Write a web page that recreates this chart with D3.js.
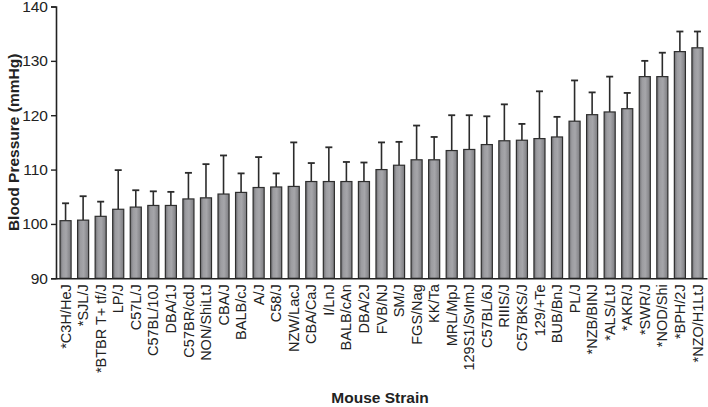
<!DOCTYPE html>
<html>
<head>
<meta charset="utf-8">
<script src="https://cdn.jsdelivr.net/npm/d3@7"></script>
<style>
  body { margin: 0; background: #fff; }
  text { font-family: "Liberation Sans", Arial, sans-serif; }
</style>
</head>
<body>
<div id="chart"></div>
<script>
// strains, mean BP and upper end of error bar
var strains = ["*C3H/HeJ", "*SJL/J", "*BTBR T+ tf/J", "LP/J", "C57L/J", "C57BL/10J", "DBA/1J",
  "C57BR/cdJ", "NON/ShiLtJ", "CBA/J", "BALB/cJ", "A/J", "C58/J", "NZW/LacJ", "CBA/CaJ", "I/LnJ",
  "BALB/cAn", "DBA/2J", "FVB/NJ", "SM/J", "FGS/Nag", "KK/Ta", "MRL/MpJ", "129S1/SvImJ", "C57BL/6J",
  "RIIIS/J", "C57BKS/J", "129/+Te", "BUB/BnJ", "PL/J", "*NZB/BINJ", "*ALS/LtJ", "*AKR/J", "*SWR/J",
  "*NOD/Shi", "*BPH/2J", "*NZO/H1LtJ"];
var means = [100.6, 100.7, 101.4, 102.7, 103.1, 103.4, 103.4, 104.6, 104.8, 105.5, 105.8, 106.7,
  106.8, 106.9, 107.8, 107.8, 107.8, 107.8, 110.0, 110.8, 111.8, 111.8, 113.5, 113.7, 114.6,
  115.3, 115.4, 115.7, 116.0, 118.9, 120.1, 120.6, 121.2, 127.1, 127.1, 131.7, 132.4];
var errTops = [103.8, 105.1, 104.1, 109.9, 106.2, 106.0, 105.9, 109.4, 111.0, 112.6, 109.3, 112.3,
  109.3, 115.0, 111.2, 114.1, 111.4, 111.3, 115.0, 115.1, 118.1, 116.0, 120.0, 120.0, 119.8,
  122.0, 118.4, 124.4, 119.7, 126.4, 124.2, 127.1, 124.1, 130.0, 131.5, 135.4, 135.4];
var yTicks = [90, 100, 110, 120, 130, 140];

var W = 708, H = 407;
var mLeft = 56, mRight = 707, mTop = 6.5, mBottom = 278.3;

var svg = d3.select("#chart").append("svg")
    .attr("width", W)
    .attr("height", H);

var defs = svg.append("defs");
var grad = defs.append("linearGradient").attr("id", "barGrad")
    .attr("x1", "0%").attr("x2", "100%").attr("y1", "0%").attr("y2", "0%");
grad.append("stop").attr("offset", "0%").attr("stop-color", "#6e6e72");
grad.append("stop").attr("offset", "25%").attr("stop-color", "#9c9ca0");
grad.append("stop").attr("offset", "55%").attr("stop-color", "#a6a6aa");
grad.append("stop").attr("offset", "100%").attr("stop-color", "#7c7c80");

var x = d3.scaleBand()
    .domain(strains)
    .range([mLeft, mRight])
    .paddingInner(0.37)
    .paddingOuter(0.23);

var y = d3.scaleLinear()
    .domain([90, 140])
    .range([mBottom, mTop]);

var data = strains.map(function(s, i) { return {name: s, mean: means[i], err: errTops[i]}; });

// error bars (upper only)
var eb = svg.append("g").selectAll("g")
  .data(data)
  .enter().append("g");
eb.append("line")
    .attr("x1", function(d) { return x(d.name) + x.bandwidth() / 2; })
    .attr("x2", function(d) { return x(d.name) + x.bandwidth() / 2; })
    .attr("y1", function(d) { return y(d.mean); })
    .attr("y2", function(d) { return y(d.err); })
    .attr("stroke", "#2b2b2b")
    .attr("stroke-width", 1.6);
eb.append("line")
    .attr("x1", function(d) { return x(d.name) + x.bandwidth() / 2 - 3.5; })
    .attr("x2", function(d) { return x(d.name) + x.bandwidth() / 2 + 3.5; })
    .attr("y1", function(d) { return y(d.err); })
    .attr("y2", function(d) { return y(d.err); })
    .attr("stroke", "#2b2b2b")
    .attr("stroke-width", 1.8);

// bars
svg.append("g").selectAll("rect")
  .data(data)
  .enter().append("rect")
    .attr("x", function(d) { return x(d.name); })
    .attr("y", function(d) { return y(d.mean); })
    .attr("width", x.bandwidth())
    .attr("height", function(d) { return y(90) - y(d.mean); })
    .attr("fill", "url(#barGrad)")
    .attr("stroke", "#2e2e2e")
    .attr("stroke-width", 1.2);

// y axis
var yAxis = svg.append("g")
    .attr("transform", "translate(" + mLeft + ",0)")
    .call(d3.axisLeft(y).tickValues(yTicks).tickSize(5).tickPadding(3));
yAxis.select(".domain").attr("stroke", "#222").attr("stroke-width", 1.6);
yAxis.selectAll(".tick line").attr("stroke", "#222").attr("stroke-width", 1.4);
yAxis.selectAll("text")
    .style("font-size", "15.5px")
    .attr("fill", "#222");

// x axis
var xAxis = svg.append("g")
    .attr("transform", "translate(0," + mBottom + ")")
    .call(d3.axisBottom(x).tickSize(0).tickSizeOuter(0).tickPadding(6));
xAxis.select(".domain").attr("stroke", "#222").attr("stroke-width", 1.6);
xAxis.selectAll("text")
    .attr("transform", "rotate(-90)")
    .attr("x", -6)
    .attr("y", 0)
    .attr("dy", "0.35em")
    .style("text-anchor", "end")
    .style("font-size", "14.5px")
    .attr("fill", "#222");

// titles
svg.append("text")
    .attr("transform", "translate(14," + (mTop + mBottom) / 2 + ") rotate(-90)")
    .attr("text-anchor", "middle")
    .attr("dy", "0.35em")
    .style("font-size", "15.5px")
    .style("font-weight", "bold")
    .attr("fill", "#222")
    .text("Blood Pressure (mmHg)");

svg.append("text")
    .attr("x", 380)
    .attr("y", 403)
    .attr("text-anchor", "middle")
    .style("font-size", "15.5px")
    .style("font-weight", "bold")
    .attr("fill", "#222")
    .text("Mouse Strain");
</script>
</body>
</html>
